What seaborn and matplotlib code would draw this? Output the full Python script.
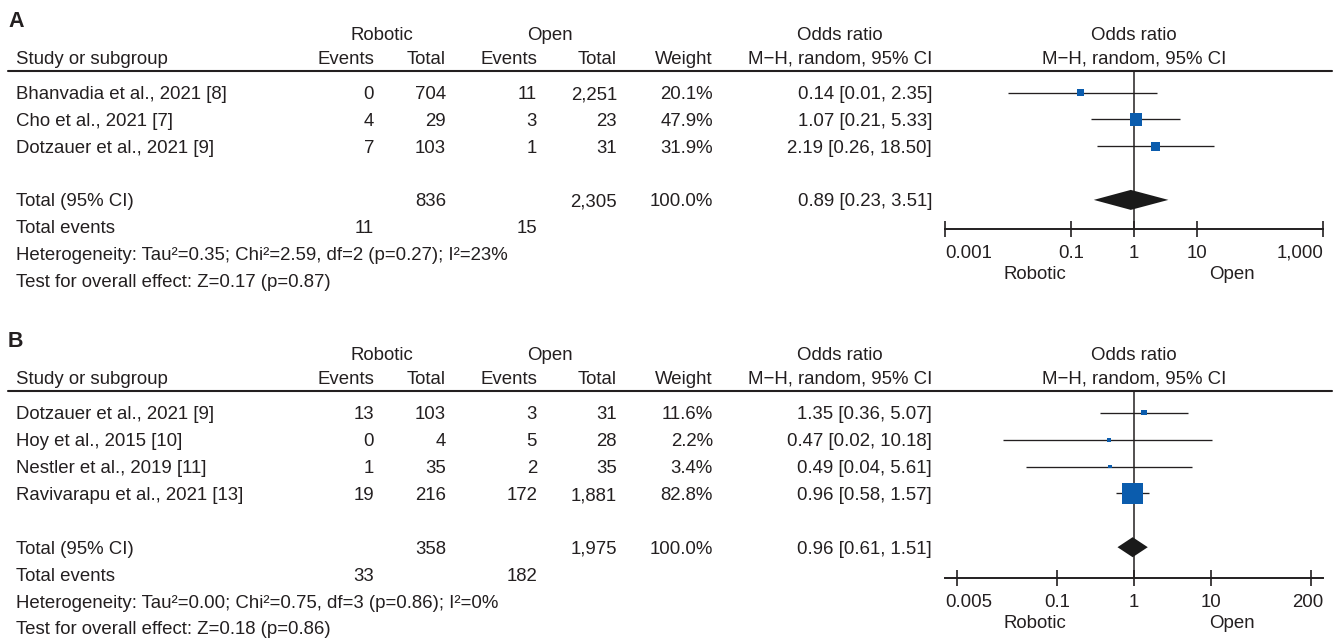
import numpy as np
import pandas as pd
import matplotlib
matplotlib.use("Agg")
import matplotlib.pyplot as plt
import matplotlib.transforms as mtransforms
from matplotlib.lines import Line2D
from matplotlib.ticker import NullLocator
import seaborn as sns

# ---------------- data: panel A ----------------
a_studies = ["Bhanvadia et al., 2021 [8]", "Cho et al., 2021 [7]", "Dotzauer et al., 2021 [9]"]
a_rob_events = [0, 4, 7]
a_rob_total = [704, 29, 103]
a_open_events = [11, 3, 1]
a_open_total = [2251, 23, 31]
a_weight = [20.1, 47.9, 31.9]
a_or = [0.14, 1.07, 2.19]
a_lo = [0.01, 0.21, 0.26]
a_hi = [2.35, 5.33, 18.50]
a_pooled = [0.89, 0.23, 3.51]          # OR, lower, upper
a_totals = [836, 2305]                 # robotic, open
a_total_weight = 100.0
a_total_events = [11, 15]
a_het = "Heterogeneity: Tau²=0.35; Chi²=2.59, df=2 (p=0.27); I²=23%"
a_test = "Test for overall effect: Z=0.17 (p=0.87)"
a_ticks = [0.001, 0.1, 1, 10, 1000]
a_ticklabels = ["0.001", "0.1", "1", "10", "1,000"]

# ---------------- data: panel B ----------------
b_studies = ["Dotzauer et al., 2021 [9]", "Hoy et al., 2015 [10]",
             "Nestler et al., 2019 [11]", "Ravivarapu et al., 2021 [13]"]
b_rob_events = [13, 0, 1, 19]
b_rob_total = [103, 4, 35, 216]
b_open_events = [3, 5, 2, 172]
b_open_total = [31, 28, 35, 1881]
b_weight = [11.6, 2.2, 3.4, 82.8]
b_or = [1.35, 0.47, 0.49, 0.96]
b_lo = [0.36, 0.02, 0.04, 0.58]
b_hi = [5.07, 10.18, 5.61, 1.57]
b_pooled = [0.96, 0.61, 1.51]
b_totals = [358, 1975]
b_total_weight = 100.0
b_total_events = [33, 182]
b_het = "Heterogeneity: Tau²=0.00; Chi²=0.75, df=3 (p=0.86); I²=0%"
b_test = "Test for overall effect: Z=0.18 (p=0.86)"
b_ticks = [0.005, 0.1, 1, 10, 200]
b_ticklabels = ["0.005", "0.1", "1", "10", "200"]

# ---------------- style ----------------
W, H, DPI = 1340, 640, 100
sns.set_theme(style="white")
plt.rcParams["font.family"] = ["Liberation Sans", "DejaVu Sans"]
INK = "#231f20"
BLUE = "#0b5cad"
FS = 13.4
plt.rcParams["text.color"] = INK

fig = plt.figure(figsize=(W / DPI, H / DPI), dpi=DPI)
fig.patch.set_facecolor("white")


def fx(px):
    return px / W


def fy(py):
    return 1 - py / H


# column right edges (px) of the table
COL_RE, COL_RT, COL_OE, COL_OT, COL_W, COL_CI = 374, 446, 537, 617, 713, 932
X_NAME = 16
PLOT_L, PLOT_R = 945, 1323


def draw_panel(label, lay, studies, rob_e, rob_t, open_e, open_t, weight,
               ors, lo, hi, pooled, totals, total_weight, tot_events, het, test,
               ticks, ticklabels, xlim, marker_scale):
    n = len(studies)
    rule_y, row0, step, axis_y = lay["rule"], lay["row0"], lay["step"], lay["axis"]

    ax = fig.add_axes([fx(PLOT_L), fy(axis_y), fx(PLOT_R) - fx(PLOT_L),
                       (axis_y - rule_y) / H])
    ax.set_xscale("log")

    # study rows: confidence interval lines + weight-sized squares
    df = pd.DataFrame({"row": np.arange(n), "or": ors, "lo": lo, "hi": hi,
                       "weight": weight})
    ax.axvline(1, color=INK, lw=1.1, zorder=1)
    ax.hlines(df["row"], df["lo"], df["hi"], color=INK, lw=0.95, zorder=2)
    side_pt = {w: max(3.8, marker_scale * w ** 0.7) * 72 / DPI for w in weight}
    sns.scatterplot(data=df, x="or", y="row", size="weight",
                    sizes={w: s ** 2 for w, s in side_pt.items()},
                    marker="s", color=BLUE, linewidth=0, legend=False,
                    ax=ax, zorder=3)

    # pooled diamond
    r_tot = n + 1
    p_or, p_lo, p_hi = pooled
    half = 10 / step
    ax.fill([p_lo, p_or, p_hi, p_or], [r_tot, r_tot - half, r_tot, r_tot + half],
            color="#1a1a1a", lw=0, zorder=4)

    ax.set_xlim(*xlim)
    ax.set_ylim((axis_y - row0) / step, (rule_y - row0) / step)
    ax.set_xlabel("")
    ax.set_ylabel("")
    ax.set_yticks([])
    ax.xaxis.set_minor_locator(NullLocator())
    ax.set_xticks(ticks)
    ax.tick_params(axis="x", bottom=True, direction="inout", length=12,
                   width=1.2, color=INK, labelbottom=False)
    for s in ["left", "right", "top"]:
        ax.spines[s].set_visible(False)
    ax.spines["bottom"].set_color(INK)
    ax.spines["bottom"].set_linewidth(1.4)
    ax.set_facecolor("none")

    # tick labels: outer ones flush with the axis ends
    tick_base = fy(axis_y + 28.5)
    for i, (t, lab) in enumerate(zip(ticks, ticklabels)):
        if i == 0:
            tr = mtransforms.blended_transform_factory(ax.transAxes, fig.transFigure)
            ax.text(0, tick_base, lab, transform=tr, ha="left", va="baseline", fontsize=FS)
        elif i == len(ticks) - 1:
            tr = mtransforms.blended_transform_factory(ax.transAxes, fig.transFigure)
            ax.text(1, tick_base, lab, transform=tr, ha="right", va="baseline", fontsize=FS)
        else:
            tr = mtransforms.blended_transform_factory(ax.transData, fig.transFigure)
            ax.text(t, tick_base, lab, transform=tr, ha="center", va="baseline", fontsize=FS)
    fig.text(fx(1035), fy(axis_y + 50), "Robotic", ha="center", va="baseline", fontsize=FS)
    fig.text(fx(1232), fy(axis_y + 50), "Open", ha="center", va="baseline", fontsize=FS)

    # header block
    h1, h2 = lay["head1"], lay["head2"]
    fig.text(fx(8), fy(lay["label"]), label, ha="left", va="baseline",
             fontsize=15.5, fontweight="bold")
    fig.text(fx(382), fy(h1), "Robotic", ha="center", va="baseline", fontsize=FS)
    fig.text(fx(550), fy(h1), "Open", ha="center", va="baseline", fontsize=FS)
    fig.text(fx(840), fy(h1), "Odds ratio", ha="center", va="baseline", fontsize=FS)
    fig.text(fx((PLOT_L + PLOT_R) / 2), fy(h1), "Odds ratio", ha="center",
             va="baseline", fontsize=FS)
    fig.text(fx(X_NAME), fy(h2), "Study or subgroup", ha="left", va="baseline", fontsize=FS)
    for x, txt in [(COL_RE, "Events"), (COL_RT, "Total"), (COL_OE, "Events"),
                   (COL_OT, "Total"), (COL_W, "Weight"),
                   (COL_CI, "M\u2212H, random, 95% CI")]:
        fig.text(fx(x), fy(h2), txt, ha="right", va="baseline", fontsize=FS)
    fig.text(fx((PLOT_L + PLOT_R) / 2), fy(h2), "M\u2212H, random, 95% CI",
             ha="center", va="baseline", fontsize=FS)
    fig.add_artist(Line2D([fx(8), fx(1332)], [fy(rule_y)] * 2,
                          transform=fig.transFigure, color=INK, lw=1.5))

    # table body, rows share the forest plot's y scale
    row_tr = mtransforms.blended_transform_factory(fig.transFigure, ax.transData) + \
        mtransforms.ScaledTranslation(0, -6.6 / DPI, fig.dpi_scale_trans)

    def cell(x, r, txt, ha="right"):
        fig.text(fx(x), r, txt, transform=row_tr, ha=ha, va="baseline", fontsize=FS)

    for r in range(n):
        cell(X_NAME, r, studies[r], ha="left")
        cell(COL_RE, r, f"{rob_e[r]:,}")
        cell(COL_RT, r, f"{rob_t[r]:,}")
        cell(COL_OE, r, f"{open_e[r]:,}")
        cell(COL_OT, r, f"{open_t[r]:,}")
        cell(COL_W, r, f"{weight[r]:.1f}%")
        cell(COL_CI, r, f"{ors[r]:.2f} [{lo[r]:.2f}, {hi[r]:.2f}]")

    cell(X_NAME, r_tot, "Total (95% CI)", ha="left")
    cell(COL_RT, r_tot, f"{totals[0]:,}")
    cell(COL_OT, r_tot, f"{totals[1]:,}")
    cell(COL_W, r_tot, f"{total_weight:.1f}%")
    cell(COL_CI, r_tot, f"{p_or:.2f} [{p_lo:.2f}, {p_hi:.2f}]")
    cell(X_NAME, r_tot + 1, "Total events", ha="left")
    cell(COL_RE, r_tot + 1, f"{tot_events[0]:,}")
    cell(COL_OE, r_tot + 1, f"{tot_events[1]:,}")
    cell(X_NAME, r_tot + 2, het, ha="left")
    cell(X_NAME, r_tot + 3, test, ha="left")


lay_a = dict(label=26.7, head1=40, head2=63.8, rule=70.7, row0=92.7, step=26.8, axis=229)
lay_b = dict(label=346.7, head1=360, head2=384, rule=390.8, row0=412.7, step=26.9, axis=578.3)

draw_panel("A", lay_a, a_studies, a_rob_events, a_rob_total, a_open_events,
           a_open_total, a_weight, a_or, a_lo, a_hi, a_pooled, a_totals,
           a_total_weight, a_total_events, a_het, a_test, a_ticks, a_ticklabels,
           (0.001, 1000), 0.82)
draw_panel("B", lay_b, b_studies, b_rob_events, b_rob_total, b_open_events,
           b_open_total, b_weight, b_or, b_lo, b_hi, b_pooled, b_totals,
           b_total_weight, b_total_events, b_het, b_test, b_ticks, b_ticklabels,
           (10 ** -2.457, 10 ** 2.457), 0.94)

fig.savefig("out.png", dpi=DPI, facecolor="white")
